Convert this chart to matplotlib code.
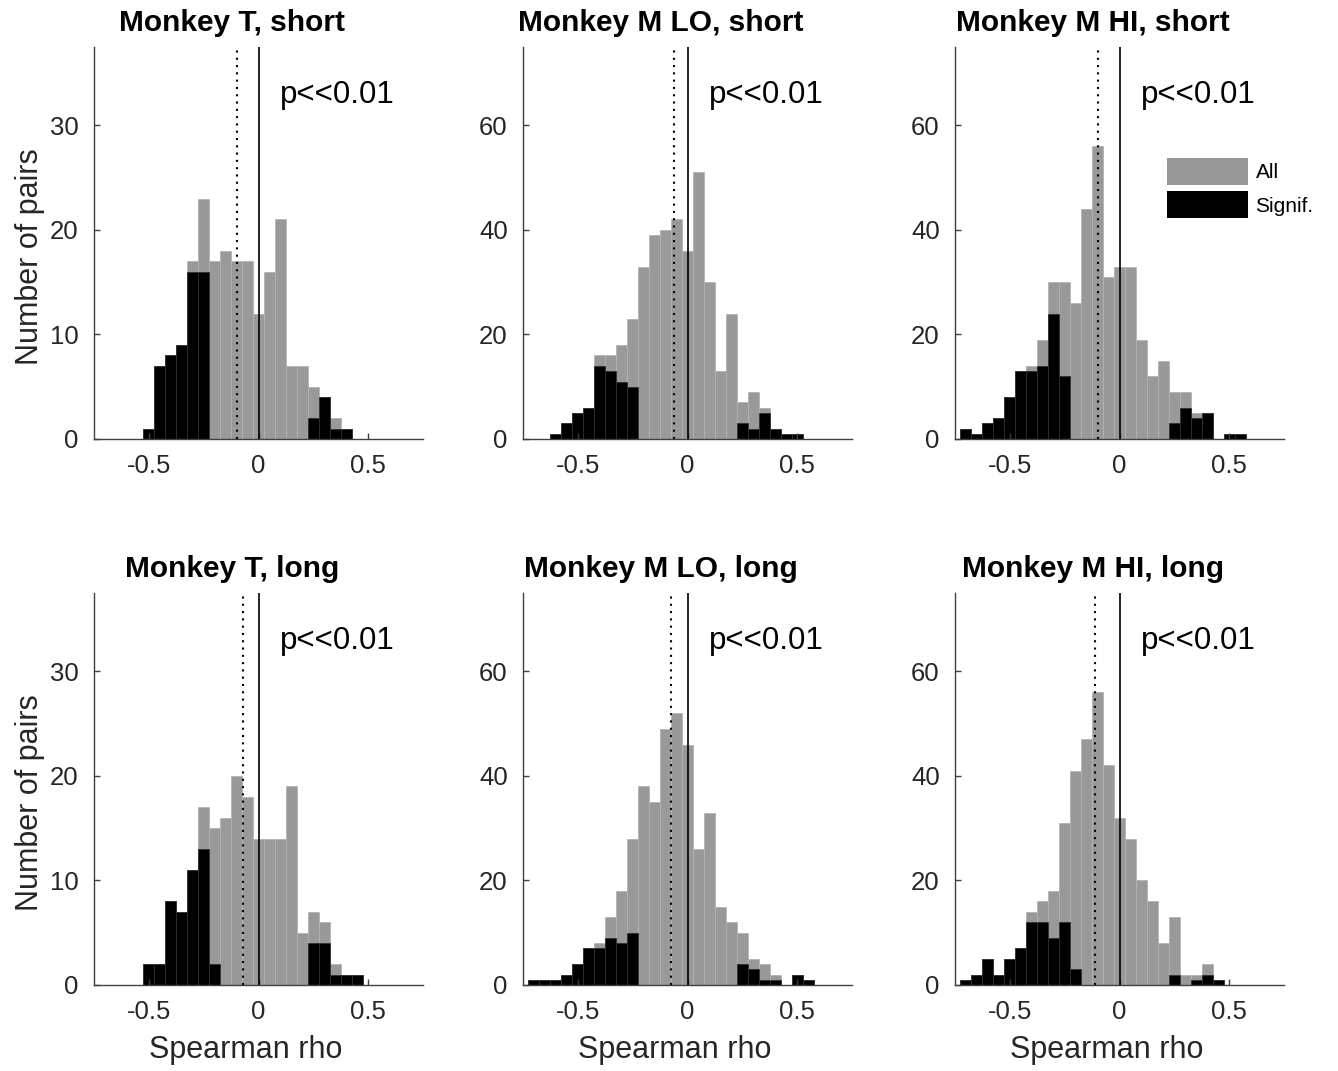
import matplotlib
matplotlib.use("Agg")
import matplotlib.pyplot as plt
import numpy as np
from matplotlib.patches import Patch

plt.rcParams['font.family'] = ['Liberation Sans', 'DejaVu Sans']

BIN = 0.05
GRAY = '#999999'
TXT = '#262626'

titles = ['Monkey T, short', 'Monkey M LO, short', 'Monkey M HI, short',
          'Monkey T, long', 'Monkey M LO, long', 'Monkey M HI, long']

# first bin centre of each panel
first_centre = [-0.50, -0.60, -0.70, -0.50, -0.70, -0.70]

all_t_short = [1, 7, 8, 9, 17, 23, 17, 18, 17, 17, 12, 16, 21, 7, 7, 5, 4, 2, 1]
sig_t_short = [1, 7, 8, 9, 16, 16, 0, 0, 0, 0, 0, 0, 0, 0, 0, 2, 4, 1, 1]

all_lo_short = [1, 3, 5, 6, 16, 16, 18, 23, 33, 39, 40, 42, 36, 51, 30, 13, 24, 7, 9, 6, 2, 1, 1]
sig_lo_short = [1, 3, 5, 6, 14, 13, 11, 10, 0, 0, 0, 0, 0, 0, 0, 0, 0, 3, 2, 5, 2, 1, 1]

all_hi_short = [2, 1, 3, 4, 8, 13, 14, 19, 30, 30, 26, 44, 56, 31, 33, 33, 19, 12, 15, 9, 9, 5, 5, 0, 1, 1]
sig_hi_short = [2, 1, 3, 4, 8, 13, 13, 14, 24, 12, 0, 0, 0, 0, 0, 0, 0, 0, 0, 3, 6, 4, 5, 0, 1, 1]

all_t_long = [2, 2, 8, 7, 11, 17, 15, 16, 20, 18, 14, 14, 14, 19, 5, 7, 6, 2, 1, 1]
sig_t_long = [2, 2, 8, 7, 11, 13, 2, 0, 0, 0, 0, 0, 0, 0, 0, 4, 4, 1, 1, 1]

all_lo_long = [1, 1, 1, 2, 4, 7, 8, 13, 18, 28, 38, 35, 49, 52, 46, 26, 33, 15, 12, 10, 5, 4, 2, 0, 2, 1]
sig_lo_long = [1, 1, 1, 2, 4, 7, 7, 9, 8, 10, 0, 0, 0, 0, 0, 0, 0, 0, 0, 4, 3, 1, 1, 0, 2, 1]

all_hi_long = [1, 2, 5, 2, 5, 7, 14, 16, 18, 31, 41, 47, 56, 42, 32, 28, 20, 16, 8, 13, 2, 2, 4, 1]
sig_hi_long = [1, 2, 5, 2, 5, 7, 12, 12, 9, 12, 3, 0, 0, 0, 0, 0, 0, 0, 0, 2, 0, 1, 2, 1]

all_counts = [all_t_short, all_lo_short, all_hi_short, all_t_long, all_lo_long, all_hi_long]
sig_counts = [sig_t_short, sig_lo_short, sig_hi_short, sig_t_long, sig_lo_long, sig_hi_long]

# mean rho (dotted line)
means = [-0.10, -0.06, -0.10, -0.07, -0.075, -0.11]

fig = plt.figure(figsize=(13.38, 10.71), dpi=100)

W, H = 1338.0, 1071.0
col_left = [94, 523, 955]
row_bottom = [439, 985]
aw, ah = 329, 392

for i in range(6):
    r, c = divmod(i, 3)
    ax = fig.add_axes([col_left[c] / W, 1 - row_bottom[r] / H, aw / W, ah / H])
    a = np.array(all_counts[i])
    s = np.array(sig_counts[i])
    centres = first_centre[i] + BIN * np.arange(len(a))

    ax.bar(centres, a, width=BIN, color=GRAY, edgecolor='#b3b3b3', linewidth=0.6)
    ax.bar(centres[s > 0], s[s > 0], width=BIN, color='black', edgecolor='#303030', linewidth=0.6)

    ax.axvline(0, color='black', lw=1.2)
    ax.axvline(means[i], color='black', lw=1.5, ls=(0, (1, 2.5)))

    ax.set_xlim(-0.75, 0.75)
    if c == 0:
        ax.set_ylim(0, 37.5)
        ax.set_yticks([0, 10, 20, 30])
    else:
        ax.set_ylim(0, 75)
        ax.set_yticks([0, 20, 40, 60])
    ax.set_xticks([-0.5, 0, 0.5])
    ax.set_xticklabels(['-0.5', '0', '0.5'])

    for sp in ['top', 'right']:
        ax.spines[sp].set_visible(False)
    for sp in ['left', 'bottom']:
        ax.spines[sp].set_color('#404040')
        ax.spines[sp].set_linewidth(1.0)
    ax.tick_params(direction='in', length=4, width=1.0, color='#404040',
                   labelsize=18.5, labelcolor=TXT, pad=11)

    ax.text(0.42, 1.06, titles[i], transform=ax.transAxes, ha='center', va='center',
            fontsize=21.5, fontweight='bold', color='black')
    ax.text(0.565, 0.878, 'p<<0.01', transform=ax.transAxes, ha='left', va='center',
            fontsize=22.5, color='black')

    if c == 0:
        ax.text(-0.195, 0.464, 'Number of pairs', transform=ax.transAxes, rotation=90,
                ha='center', va='center', fontsize=22, color=TXT)
    if r == 1:
        ax.text(0.46, -0.166, 'Spearman rho', transform=ax.transAxes,
                ha='center', va='center', fontsize=22, color=TXT)

handles = [Patch(facecolor=GRAY, edgecolor='none', label='All'),
           Patch(facecolor='black', edgecolor='none', label='Signif.')]
fig.legend(handles=handles, loc='upper left', bbox_to_anchor=(1167 / W, 1 - 158 / H),
           frameon=False, fontsize=15, handlelength=3.9, handleheight=1.62,
           handletextpad=0.35, labelspacing=0.3, borderpad=0, borderaxespad=0)

fig.savefig('out.png', dpi=100)
